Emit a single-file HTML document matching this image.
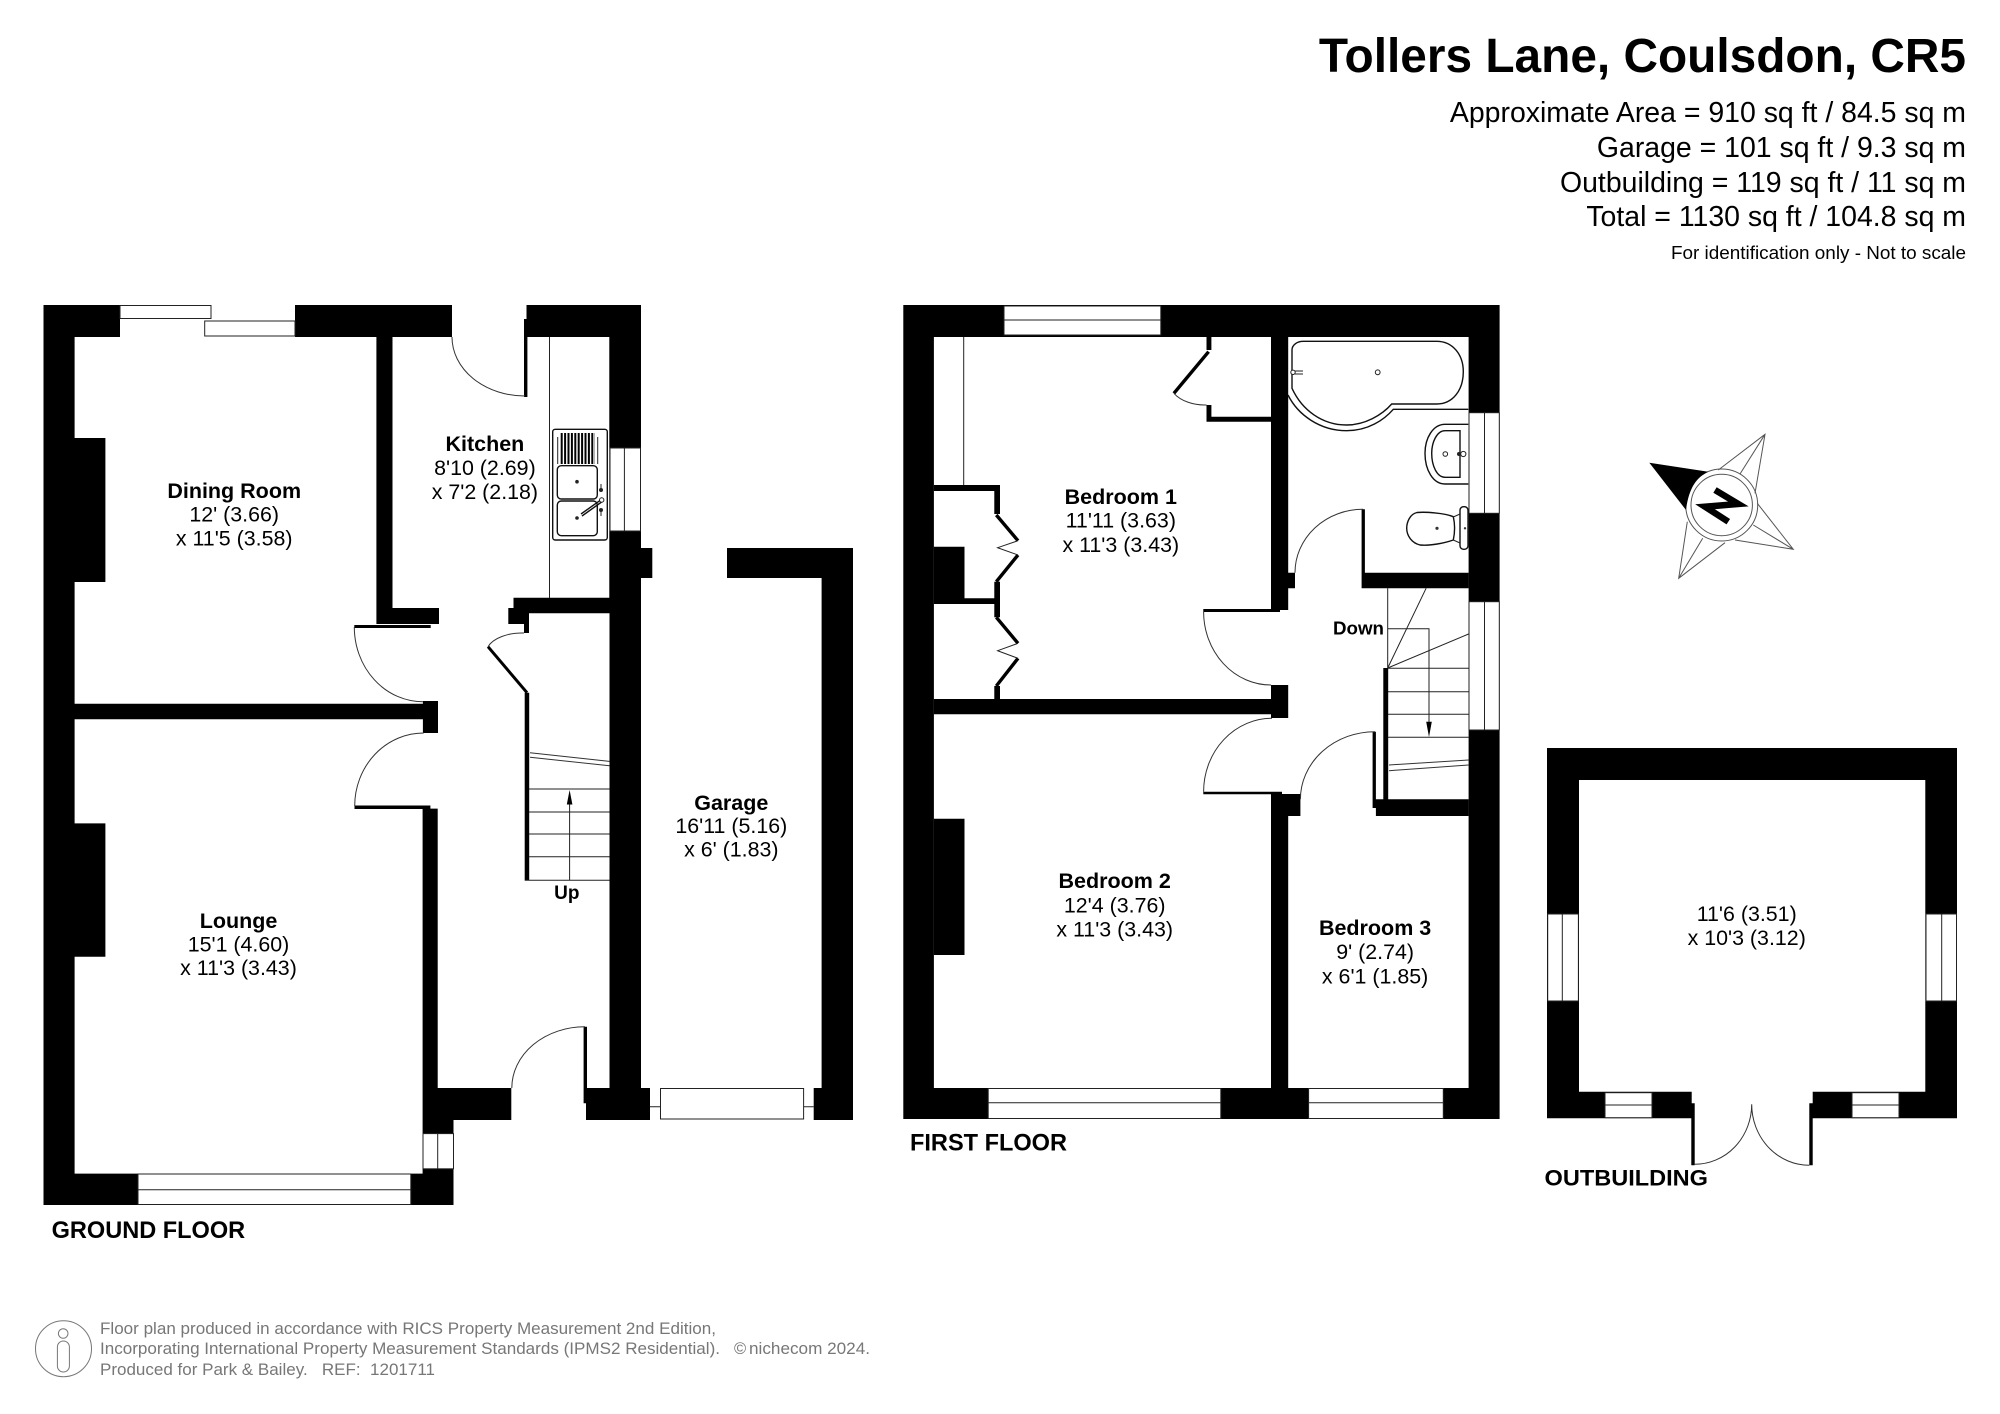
<!DOCTYPE html>
<html><head><meta charset="utf-8"><style>
html,body{margin:0;padding:0;background:#fff}
svg{display:block}
text{font-family:"Liberation Sans",Arial,sans-serif;fill:#000}
.b{font-weight:bold;font-size:21.5px}.r{font-size:21.4px}
.m{text-anchor:middle}.e{text-anchor:end}
.w{fill:#fff;stroke:#222;stroke-width:1}
.t{fill:none;stroke:#222;stroke-width:1}
.f{fill:none;stroke:#111;stroke-width:1.4}
.a{fill:none;stroke:#333;stroke-width:1}
.g{fill:#777;font-size:16.5px}
</style></head><body>
<svg width="2000" height="1414" viewBox="0 0 2000 1414" xmlns="http://www.w3.org/2000/svg">
<rect width="2000" height="1414" fill="#fff"/>
<!-- heading -->
<text x="1966" y="72" class="e" font-weight="bold" font-size="47.8">Tollers Lane, Coulsdon, CR5</text>
<text x="1966" y="122" class="e" font-size="28.45">Approximate Area = 910 sq ft / 84.5 sq m</text>
<text x="1966" y="157" class="e" font-size="28.45">Garage = 101 sq ft / 9.3 sq m</text>
<text x="1966" y="192" class="e" font-size="28.45">Outbuilding = 119 sq ft / 11 sq m</text>
<text x="1966" y="226" class="e" font-size="28.45">Total = 1130 sq ft / 104.8 sq m</text>
<text x="1966" y="259" class="e" font-size="18.9">For identification only - Not to scale</text>

<!-- GROUND FLOOR walls -->
<path fill="#000" d="M43.5 305H120V337H74.6V1173.6H422.6V808.6H437.7V1088H511.3V1120H453.5V1205H43.5Z
M295 305H452V337H392.5V608H439V624H376.4V337H295Z
M526.5 305H641V1088H650V1120H586V1103.3H583.6V1026.8H587V1088H609.5V613.3H529V633H524V624H508.3V608H513.5V597.7H609.3V337H527.4V397H524V319H526.5Z
M74.6 703.7H422.9V701H438V733H422.9V719.3H74.6Z
M74.6 438H105.4V582H74.6Z M74.6 823.4H105.4V956.8H74.6Z
M640 548H652.3V578H640Z
M354.5 805.5H430.4V809H354.5Z M354.3 625H430.7V628H354.3Z
M524.7 692.7H529.2V880.3H524.7Z
M727 548H853V1120H813.7V1088H821.6V578H727Z"/>
<path fill="#000" stroke="#000" stroke-width="3" d="M488 646.7L527 692.7"/>
<!-- windows GF -->
<rect class="w" x="120" y="305.5" width="91" height="13"/>
<rect class="w" x="204.7" y="321" width="90.3" height="15"/>
<rect class="w" x="610" y="448" width="30.5" height="83"/><path class="t" d="M624.4 448V531"/>
<rect class="w" x="423" y="1133.6" width="30.5" height="35.2"/><path class="t" d="M437.7 1133.6V1168.8"/>
<rect class="w" x="138" y="1174" width="272.8" height="30.5"/><path class="t" d="M138 1189.8H410.8"/>
<rect class="w" x="660.5" y="1088.5" width="143.1" height="30.5"/><path class="t" d="M650 1106.8H660.5M803.6 1106.8H813.7"/>
<!-- GF doors/arcs/stairs -->
<path class="a" d="M354.3 627A68.6 74.7 0 0 0 422.9 701.7M452 337A73 59 0 0 0 525 396M354.7 806A69 73 0 0 1 423.7 733M511.8 1088A73 61.2 0 0 1 585 1026.8M488 646.7A36 20 0 0 1 524 633"/>
<path class="t" d="M549.5 337V598M524.7 880.3H609.5M529 789H609.5M529 812H609.5M529 834H609.5M529 856.8H609.5M569.6 880.3V803"/>
<path d="M569.6 790L566.8 804.5H572.4Z" fill="#000"/>
<path class="a" d="M530 752.7L609.5 761.4M530 757.2L609.5 765.8"/>
<!-- sink -->
<rect class="f" x="552.7" y="429.3" width="54.6" height="110.7" rx="2.5"/>
<rect class="f" x="557.3" y="465.7" width="40" height="33.3" rx="4"/>
<rect class="f" x="557.3" y="501" width="40" height="34.7" rx="4"/>
<path d="M560.7 448.5H595" stroke="#000" stroke-width="31" stroke-dasharray="2 1.4" fill="none"/>
<path class="t" d="M557.7 437V464M597.7 437V464"/>
<circle cx="577" cy="481.7" r="1.8" fill="#222"/><circle cx="577" cy="518" r="1.8" fill="#222"/>
<path class="f" d="M581 514L601.7 499.3M582 516L603 501"/>
<circle cx="601.7" cy="500" r="2.2" fill="#fff" stroke="#222"/>
<circle cx="601" cy="490" r="2" fill="#222"/><circle cx="601" cy="510" r="2" fill="#222"/>
<path class="t" d="M601 484V490M601 510V516"/>
<!-- GF text -->
<text x="234.2" y="498" class="b m">Dining Room</text>
<text x="234.2" y="521.5" class="r m">12' (3.66)</text>
<text x="234.2" y="545.5" class="r m">x 11'5 (3.58)</text>
<text x="484.9" y="451" class="b m">Kitchen</text>
<text x="484.9" y="475" class="r m">8'10 (2.69)</text>
<text x="484.9" y="499" class="r m">x 7'2 (2.18)</text>
<text x="238.5" y="928" class="b m">Lounge</text>
<text x="238.5" y="951.5" class="r m">15'1 (4.60)</text>
<text x="238.5" y="975" class="r m">x 11'3 (3.43)</text>
<text x="731.3" y="810" class="b m">Garage</text>
<text x="731.3" y="832.8" class="r m">16'11 (5.16)</text>
<text x="731.3" y="856.5" class="r m">x 6' (1.83)</text>
<text x="566.8" y="899" class="m" font-weight="bold" font-size="19">Up</text>
<text x="51.6" y="1238" font-weight="bold" font-size="24" textLength="193.6" lengthAdjust="spacingAndGlyphs">GROUND FLOOR</text>

<!-- FIRST FLOOR walls -->
<rect x="903.3" y="305" width="596.3" height="814" fill="#000"/>
<rect x="933.9" y="337" width="534.7" height="751" fill="#fff"/>
<!-- FF internal solids -->
<path fill="#000" d="M1271 337H1288.2V610H1280V612H1203.3V609H1271Z
M1206.5 337H1211.4V350H1206.5Z M1206.5 405H1211.4V416.7H1271V421.7H1206.5Z
M933.9 699H1271V685H1288.2V718H1271V714.3H933.9Z
M1361.6 509.3H1364.9V572.7H1468.6V588.3H1361.6Z M1288.2 572.7H1295V588.3H1288.2Z
M933.9 485H1000V514H994.3V491H933.9Z
M933.9 546.7H964.5V598.3H1000V617.3H994.3V604H933.9Z
M994.3 581.7H1000V598.3H994.3Z M994.3 686H1000V699H994.3Z
M933.9 818.7H964.5V955H933.9Z
M1203.3 791.7H1282V794H1300.4V816H1288.2V1088H1271V794.3H1203.3Z
M1372.6 731.7H1375.9V799.3H1468.6V816H1375.9V808H1372.6Z
M1383.3 668H1388.2V799.3H1383.3Z"/>
<path fill="none" stroke="#000" stroke-width="3.4" d="M1208.6 351.7L1173.9 393.3M996.3 515L1018 540.7M1018 555L996.3 581.7M996.3 617.3L1018 643.3M1018 658.3L996.3 686"/>
<path class="t" d="M1018 540.7L997.6 547.7L1018 555M1018 643.3L997.6 650.7L1018 658.3M963.7 337V485M1387.7 588.3V668M1387.7 668L1426.1 588.3M1387.7 668L1468.6 634M1388 668.3H1468.6M1388 691.7H1468.6M1388 714.3H1468.6M1388 737.3H1468.6M1387.7 628.7H1429V725"/>
<path d="M1429 737L1426.2 721.7H1431.8Z" fill="#000"/>
<path class="a" d="M1389 765L1468.6 760M1389 770.7L1468.6 765"/>
<path class="a" d="M1173.9 393.3A36 24 0 0 0 1206.5 405M1203.6 611.7A67.4 73.3 0 0 0 1271 685M1295 572.7A68 63.4 0 0 1 1363 509.3M1203.6 791.7A68.4 73.4 0 0 1 1272 718.3M1300.4 799.3A74.6 67.6 0 0 1 1375 731.7"/>
<!-- windows FF -->
<rect class="w" x="1004" y="306" width="156.8" height="29"/><path class="t" d="M1004 320H1160.8"/>
<rect class="w" x="988.2" y="1088.5" width="232.6" height="30"/><path class="t" d="M988.2 1102.7H1220.8"/>
<rect class="w" x="1308.6" y="1088.5" width="134.7" height="30"/><path class="t" d="M1308.6 1102.7H1443.3"/>
<rect class="w" x="1469" y="412.7" width="30.3" height="100.6"/><path class="t" d="M1484.5 412.7V513.3"/>
<rect class="w" x="1469" y="601.7" width="30.3" height="128.3"/><path class="t" d="M1484.5 601.7V730"/>
<!-- bath -->
<path class="f" d="M1303.3 341.3H1436.7C1453 341.3 1463.3 355 1463.3 371.7C1463.3 390 1453 404 1436.7 404H1391.7C1382 415 1365 425 1346.7 425C1322 425 1302 410 1292 388.3V350C1292 345 1297 341.3 1303.3 341.3Z"/>
<path class="f" d="M1288 395C1298 415 1320 430.7 1346.7 430.7C1368 430.7 1384 420 1393.3 409.3H1468.3"/>
<circle cx="1377.7" cy="372.3" r="2.4" fill="#fff" stroke="#222"/>
<circle cx="1293" cy="372.3" r="2.2" fill="#fff" stroke="#222"/><path class="t" d="M1295 371H1303M1295 374H1303"/>
<!-- basin -->
<path class="f" d="M1468.3 424.3H1445C1433 424.3 1425 438 1425 453.3C1425 470 1433 484 1445 484H1468.3"/>
<path class="f" d="M1460 430.7H1445C1437 430.7 1431.7 442 1431.7 453.3C1431.7 466 1437 477.3 1445 477.3H1460Z"/>
<circle cx="1445.3" cy="454" r="2.3" fill="#fff" stroke="#222"/><circle cx="1459" cy="454" r="2" fill="#222"/><circle cx="1463.3" cy="454" r="2.6" fill="#fff" stroke="#222"/>
<!-- toilet -->
<path class="f" d="M1453.3 516.7C1445 513 1425 511.7 1417 512.5C1410 514 1406.7 522 1406.7 528.3C1406.7 536 1412 543 1420 545C1430 546 1445 543 1453.3 540C1455 532 1455 524 1453.3 516.7Z"/>
<rect class="f" x="1460" y="506.7" width="8" height="42.6" rx="3.5"/>
<path class="t" d="M1453.3 517L1460 514M1453.3 540L1460 543"/>
<circle cx="1437" cy="528.3" r="1.6" fill="#333"/><circle cx="1465" cy="528.3" r="1.2" fill="#333"/>
<!-- FF text -->
<text x="1120.8" y="504" class="b m">Bedroom 1</text>
<text x="1120.8" y="527.5" class="r m">11'11 (3.63)</text>
<text x="1120.8" y="551.8" class="r m">x 11'3 (3.43)</text>
<text x="1114.7" y="888" class="b m">Bedroom 2</text>
<text x="1114.7" y="912.5" class="r m">12'4 (3.76)</text>
<text x="1114.7" y="936.5" class="r m">x 11'3 (3.43)</text>
<text x="1375.1" y="935" class="b m">Bedroom 3</text>
<text x="1375.1" y="959" class="r m">9' (2.74)</text>
<text x="1375.1" y="983.5" class="r m">x 6'1 (1.85)</text>
<text x="1333" y="634.5" font-weight="bold" font-size="18.5" textLength="51" lengthAdjust="spacingAndGlyphs">Down</text>
<text x="910" y="1150.7" font-weight="bold" font-size="24" textLength="157" lengthAdjust="spacingAndGlyphs">FIRST FLOOR</text>

<!-- OUTBUILDING -->
<path fill="#000" d="M1547 748H1957V1118.3H1812.7V1103.3H1809.3V1165.3H1812.7V1103.3V1091.7H1925.3V780H1579V1091.7H1691.7V1103.3H1694.7V1165.3H1691.3V1118.3H1547Z"/>
<rect class="w" x="1547.7" y="914" width="30.7" height="87"/><path class="t" d="M1562.3 914V1001"/>
<rect class="w" x="1926" y="914" width="30.5" height="87"/><path class="t" d="M1941.7 914V1001"/>
<rect class="w" x="1605" y="1092.7" width="47" height="25"/><path class="t" d="M1605 1105H1652"/>
<rect class="w" x="1852" y="1092.7" width="47" height="25"/><path class="t" d="M1852 1105H1899"/>
<path class="a" d="M1694.7 1164.3A57 60 0 0 0 1751.7 1104.3A57.6 61 0 0 0 1809.3 1165.3"/>
<text x="1746.7" y="921" class="r m">11'6 (3.51)</text>
<text x="1746.7" y="945" class="r m">x 10'3 (3.12)</text>
<text x="1544.5" y="1185.7" font-weight="bold" font-size="22" textLength="163.5" lengthAdjust="spacingAndGlyphs">OUTBUILDING</text>

<!-- compass -->
<g fill="none" stroke="#555" stroke-width="1">
<path d="M1718.3 470L1765 434.3L1755 493.3M1740 474L1765 434.3M1757.3 503.3L1793.3 549.3L1735 540M1753.3 525L1793.3 549.3M1725 542.7L1678.7 578.3L1687.3 521.7M1702.7 538.3L1678.7 578.3"/>
<circle cx="1721.7" cy="505" r="36"/><circle cx="1721.7" cy="505" r="30.7"/>
</g>
<path fill="#000" d="M1649.3 462.7L1708.3 471.7C1697 477 1689 487 1686 510Z"/>
<path fill="none" stroke="#000" stroke-width="6.5" d="M1715 490L1738.3 504L1705 506.7L1728.3 521.7"/>

<!-- footer -->
<g fill="none" stroke="#777" stroke-width="1">
<circle cx="63.5" cy="1348.7" r="28"/><circle cx="63.2" cy="1333.5" r="4.8"/>
<rect x="57.4" y="1341" width="12" height="31" rx="6"/>
</g>
<text x="100" y="1334" class="g" textLength="616" lengthAdjust="spacingAndGlyphs">Floor plan produced in accordance with RICS Property Measurement 2nd Edition,</text>
<text x="100" y="1354" class="g" textLength="620" lengthAdjust="spacingAndGlyphs">Incorporating International Property Measurement Standards (IPMS2 Residential).</text>
<text x="734" y="1354" class="g">©</text>
<text x="749" y="1354" class="g" textLength="121" lengthAdjust="spacingAndGlyphs">nichecom 2024.</text>
<text x="100" y="1375" class="g" textLength="335" lengthAdjust="spacingAndGlyphs">Produced for Park &amp; Bailey.&#160;&#160; REF:&#160; 1201711</text>
</svg>
</body></html>
